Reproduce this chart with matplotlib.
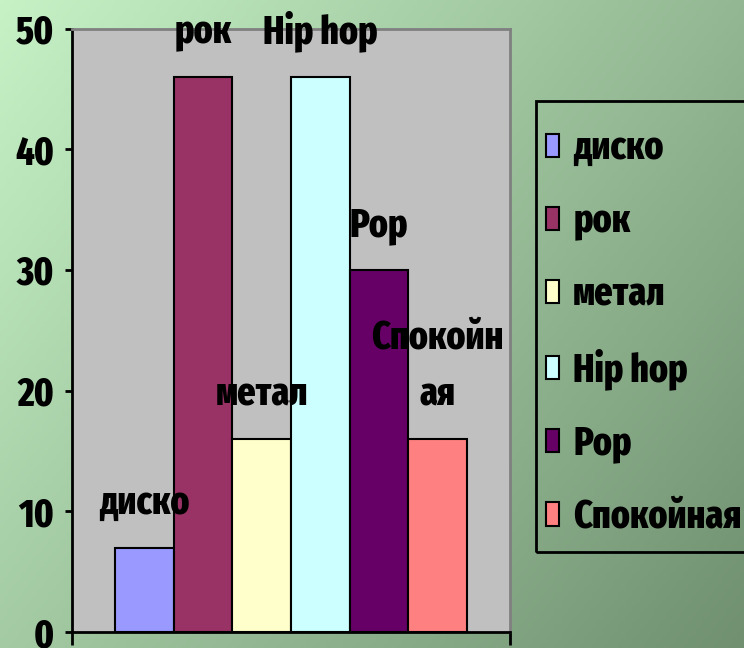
import numpy as np
import matplotlib
matplotlib.use("Agg")
import matplotlib.pyplot as plt
from matplotlib.patches import Patch, Rectangle

# data
genres = ["диско", "рок", "метал", "Hip hop", "Pop", "Спокойная"]
bar_labels = ["диско", "рок", "метал", "Hip hop", "Pop", "Спокойн\nая"]
values = [7, 46, 16, 46, 30, 16]
yticks = [0, 10, 20, 30, 40, 50]

colors = ["#9999FF", "#993366", "#FFFFCC", "#CCFFFF", "#660066", "#FF8080"]

plt.rcParams["font.family"] = ["Fira Sans Extra Condensed", "DejaVu Sans"]
plt.rcParams["font.weight"] = "bold"
fs = 28
fw = 800

fig = plt.figure(figsize=(7.44, 6.48), dpi=100)

# diagonal green gradient background
bg = fig.add_axes([0, 0, 1, 1], zorder=-10)
xx, yy = np.meshgrid(np.linspace(0, 1, 200), np.linspace(0, 1, 200))
t = (xx * 0.6 + yy * 0.4)
c0 = np.array([198, 242, 198]) / 255
c1 = np.array([112, 144, 112]) / 255
img = c0[None, None, :] * (1 - t[..., None]) + c1[None, None, :] * t[..., None]
bg.imshow(img, aspect="auto", extent=[0, 1, 0, 1], origin="upper")
bg.axis("off")

ax = fig.add_axes([72 / 744, 16 / 648, 438 / 744, 603.5 / 648])
ax.set_facecolor("#C0C0C0")

x = np.arange(len(values))
bars = ax.bar(x, values, width=1.0, color=colors, edgecolor="black", linewidth=1.5)

for xi, v, lab in zip(x, values, bar_labels):
    ax.annotate(lab, (xi, v), xytext=(0, 24), textcoords="offset points",
                ha="center", va="baseline", fontsize=fs, fontweight=fw,
                linespacing=1.6, annotation_clip=False)

pad = 0.735
ax.set_xlim(-0.5 - pad, len(values) - 0.5 + pad)
ax.set_ylim(0, 50)
ax.set_yticks(yticks)
ax.set_yticklabels([str(v) for v in yticks], fontsize=fs, fontweight=fw)
ax.tick_params(axis="y", direction="out", length=5, width=2, pad=8)
ax.set_xticks(ax.get_xlim())
ax.set_xticklabels([])
ax.tick_params(axis="x", direction="out", length=9.5, width=2)

for side in ["left", "bottom"]:
    ax.spines[side].set_color("black")
    ax.spines[side].set_linewidth(2)
for side in ["top", "right"]:
    ax.spines[side].set_color("#808080")
    ax.spines[side].set_linewidth(2)

# legend box (runs off the right edge like the original)
fig.patches.append(Rectangle((536 / 744, 1 - 552 / 648), 0.4, 451 / 648,
                             transform=fig.transFigure, facecolor="none",
                             edgecolor="black", linewidth=2))

handles = [Patch(facecolor=c, edgecolor="black", linewidth=1.5) for c in colors]
leg = fig.legend(handles, genres, loc="upper left",
                 bbox_to_anchor=(546 / 744, 1 - 129 / 648),
                 prop={"size": fs, "weight": fw},
                 frameon=False,
                 handlelength=0.34, handleheight=0.55, handletextpad=0.36,
                 labelspacing=0.88, borderpad=0, borderaxespad=0)

fig.savefig("out.png", dpi=100)
